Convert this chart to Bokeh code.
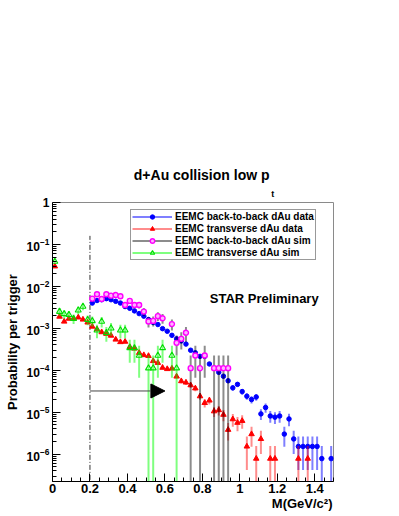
import math
from bokeh.plotting import figure
from bokeh.models import (Range1d, FixedTicker, LogTickFormatter, Label, Legend, LegendItem,
                          Arrow, NormalHead, ColumnDataSource, Title)
from bokeh.embed import file_html
from bokeh.resources import INLINE

# ---------------- data ----------------
# EEMC back-to-back dAu data (blue)
bb_data_m = [0.2125, 0.2375, 0.2625, 0.2875, 0.3125, 0.3375, 0.3625, 0.3875, 0.4125, 0.4375,
             0.4625, 0.4875, 0.5125, 0.5375, 0.5625, 0.5875, 0.6125, 0.6375, 0.6625, 0.6875,
             0.7125, 0.7375, 0.7625, 0.7875, 0.8125, 0.8375, 0.8625, 0.8875, 0.9125, 0.9375,
             0.9625, 0.9875, 1.0125, 1.0375, 1.0625, 1.0875, 1.1125, 1.1375, 1.1625, 1.1875,
             1.2125, 1.2375, 1.2625, 1.2875, 1.3125, 1.3375, 1.3625, 1.3875, 1.4125, 1.4375,
             1.4875]
bb_data_p = [4.0e-3, 4.6e-3, 4.8e-3, 5.1e-3, 4.8e-3, 4.4e-3, 4.0e-3, 3.3e-3, 3.0e-3, 2.6e-3,
             2.24e-3, 1.95e-3, 1.62e-3, 1.38e-3, 1.23e-3, 9.8e-4, 8.5e-4, 6.8e-4, 5.6e-4, 5.0e-4,
             4.2e-4, 3.0e-4, 2.6e-4, 2.14e-4, 2.14e-4, 1.41e-4, 1.12e-4, 8.9e-5, 7.2e-5, 5.6e-5,
             3.8e-5, 4.6e-5, 3.1e-5, 2.4e-5, 2.0e-5, 2.3e-5, 9.1e-6, 1.29e-5, 8.1e-6, 7.6e-6,
             8.1e-6, 3.0e-6, 6.9e-6, 2.3e-6, 1.52e-6, 1.52e-6, 1.52e-6, 1.52e-6, 1.52e-6, 7.8e-7,
             7.8e-7]
bb_data_err = [5.5e-5, 6.0e-5, 6.1e-5, 6.3e-5, 6.1e-5, 5.8e-5, 5.5e-5, 5.0e-5, 4.8e-5, 4.5e-5,
               4.2e-5, 3.9e-5, 3.5e-5, 3.3e-5, 3.1e-5, 2.7e-5, 2.6e-5, 2.3e-5, 2.1e-5, 2.0e-5,
               1.8e-5, 1.5e-5, 1.4e-5, 1.3e-5, 1.3e-5, 1.0e-5, 9.3e-6, 8.3e-6, 7.4e-6, 6.6e-6,
               5.4e-6, 6.0e-6, 4.9e-6, 4.3e-6, 3.9e-6, 4.2e-6, 2.6e-6, 3.2e-6, 2.5e-6, 2.4e-6,
               2.5e-6, 1.5e-6, 2.3e-6, 1.3e-6, 1.1e-6, 1.1e-6, 1.1e-6, 1.1e-6, 1.1e-6, 7.8e-7,
               7.8e-7]

# EEMC transverse dAu data (red)
tr_data_m = [0.0125, 0.0375, 0.0625, 0.0875, 0.1125, 0.1375, 0.1625, 0.1875, 0.2125, 0.2375,
             0.2625, 0.2875, 0.3125, 0.3375, 0.3625, 0.3875, 0.4125, 0.4375, 0.4625, 0.4875,
             0.5125, 0.5375, 0.5625, 0.5875, 0.6125, 0.6375, 0.6625, 0.6875, 0.7125, 0.7375,
             0.7625, 0.7875, 0.8125, 0.8375, 0.8625, 0.8875, 0.9125, 0.9375, 0.9625, 0.9875,
             1.0125, 1.0375, 1.0625, 1.0875, 1.1125, 1.1625, 1.1875, 1.3125, 1.3625]
tr_data_p = [3.0e-2, 1.9e-3, 1.45e-3, 1.7e-3, 1.7e-3, 1.82e-3, 1.62e-3, 1.38e-3, 1.1e-3, 9.5e-4,
             8.1e-4, 7.4e-4, 6.7e-4, 5.4e-4, 4.7e-4, 4.8e-4, 3.6e-4, 3.3e-4, 2.6e-4, 2.3e-4,
             2.2e-4, 1.66e-4, 1.5e-4, 1.15e-4, 1.07e-4, 1.1e-4, 7.1e-5, 5.5e-5, 5.1e-5, 4.4e-5,
             3.7e-5, 2.4e-5, 1.66e-5, 1.9e-5, 1.05e-5, 1.12e-5, 8.7e-6, 3.8e-6, 6.8e-6, 5.6e-6,
             6.2e-6, 1.52e-6, 3.0e-6, 7.8e-7, 2.3e-6, 7.8e-7, 7.8e-7, 7.8e-7, 7.8e-7]
tr_data_err = [1.5e-4, 3.8e-5, 3.3e-5, 3.6e-5, 3.6e-5, 3.7e-5, 3.5e-5, 3.3e-5, 2.9e-5, 2.7e-5,
               2.5e-5, 2.4e-5, 2.3e-5, 2.0e-5, 1.9e-5, 1.9e-5, 1.7e-5, 1.6e-5, 1.4e-5, 1.3e-5,
               1.3e-5, 1.1e-5, 1.1e-5, 9.4e-6, 9.1e-6, 9.2e-6, 7.4e-6, 6.5e-6, 6.3e-6, 5.8e-6,
               5.3e-6, 4.3e-6, 3.6e-6, 3.8e-6, 2.8e-6, 2.9e-6, 2.6e-6, 1.7e-6, 2.3e-6, 2.1e-6,
               2.2e-6, 1.1e-6, 1.5e-6, 7.8e-7, 1.3e-6, 7.8e-7, 7.8e-7, 7.8e-7, 7.8e-7]

# EEMC back-to-back dAu sim (magenta)
bb_sim_m = [0.2125, 0.2375, 0.2625, 0.2875, 0.3125, 0.3375, 0.3625, 0.3875, 0.4125, 0.4375,
            0.4625, 0.4875, 0.5125, 0.5375, 0.5625, 0.5875, 0.6375, 0.6625, 0.6875, 0.7125,
            0.7375, 0.7625, 0.7875, 0.8125, 0.8625, 0.8875, 0.9125, 0.9375]
bb_sim_p = [5.1e-3, 6.5e-3, 5.0e-3, 6.5e-3, 6.0e-3, 6.2e-3, 5.8e-3, 3.6e-3, 4.5e-3, 3.6e-3,
            3.6e-3, 2.5e-3, 1.45e-3, 1.5e-3, 1.95e-3, 1.74e-3, 1.26e-3, 4.5e-4, 5.6e-4, 7.8e-4,
            1.12e-4, 2.24e-4, 1.12e-4, 2.24e-4, 1.12e-4, 1.12e-4, 1.12e-4, 1.12e-4]
bb_sim_err = [7.6e-4, 8.5e-4, 7.5e-4, 8.5e-4, 8.2e-4, 8.3e-4, 8.1e-4, 6.3e-4, 7.1e-4, 6.3e-4,
              6.3e-4, 5.3e-4, 4.0e-4, 4.0e-4, 4.6e-4, 4.5e-4, 3.7e-4, 2.24e-4, 2.5e-4, 3.0e-4,
              1.12e-4, 1.58e-4, 1.12e-4, 1.58e-4, 1.12e-4, 1.12e-4, 1.12e-4, 1.12e-4]

# EEMC transverse dAu sim (green)
tr_sim_m = [0.0125, 0.0375, 0.0625, 0.0875, 0.1125, 0.1375, 0.1625, 0.1875, 0.2125, 0.2375,
            0.2625, 0.2875, 0.3125, 0.3625, 0.3875, 0.4125, 0.4375, 0.4625, 0.5125, 0.5375,
            0.5625, 0.5875, 0.6375, 0.6625]
tr_sim_p = [3.9e-2, 2.5e-3, 2.2e-3, 2.1e-3, 1.7e-3, 2.7e-3, 3.3e-3, 1.6e-3, 1.5e-3, 9.0e-4,
            1.45e-3, 7.8e-4, 1.0e-3, 9.0e-4, 9.0e-4, 3.4e-4, 3.4e-4, 2.24e-4, 1.12e-4, 1.12e-4,
            2.24e-4, 3.4e-4, 2.24e-4, 1.12e-4]
tr_sim_err = [2.1e-3, 5.3e-4, 5.0e-4, 4.9e-4, 4.3e-4, 5.5e-4, 6.0e-4, 4.2e-4, 4.0e-4, 3.2e-4,
              4.0e-4, 3.0e-4, 3.4e-4, 3.2e-4, 3.2e-4, 1.9e-4, 1.9e-4, 1.58e-4, 1.12e-4, 1.12e-4,
              1.58e-4, 1.9e-4, 1.58e-4, 1.12e-4]

legend_labels = ["EEMC back-to-back dAu data", "EEMC transverse dAu data",
                 "EEMC back-to-back dAu sim", "EEMC transverse dAu sim"]

x_ticks = [0.0, 0.2, 0.4, 0.6, 0.8, 1.0, 1.2, 1.4]
y_ticks = [1e-6, 1e-5, 1e-4, 1e-3, 1e-2, 1e-1, 1.0]

title_text = "d+Au collision low p"
title_sub = "t"
x_title = "M(GeV/c\u00b2)"
y_title = "Probability per trigger"
star_text = "STAR Preliminary"

mass_cut = 0.2          # vertical dash-dot line
mass_cut_top = 0.16     # top of the dash-dot line
arrow_level = 3.2e-5    # y of the arrow
arrow_end = 0.6         # arrow tip

x_lo, x_hi = 0.0, 1.5
y_lo, y_hi = 2.22e-7, 1.0
floor = 1e-9

FONT = "Liberation Sans"

# ---------------- figure ----------------
p = figure(width=399, height=516, x_range=Range1d(x_lo, x_hi), y_range=Range1d(y_lo, y_hi),
           y_axis_type="log", output_backend="svg", toolbar_location=None, title=None,
           min_border_left=52, min_border_right=66, min_border_top=202, min_border_bottom=35)
p.grid.visible = False
p.outline_line_color = "#8a8a8a"
p.outline_line_width = 1
p.background_fill_color = "white"
p.border_fill_color = "white"

minor_x = [i * 0.05 for i in range(0, 31) if i % 4 != 0]
p.xaxis.ticker = FixedTicker(ticks=x_ticks, minor_ticks=minor_x)
minor_y = []
for d in range(-7, 0):
    for k in range(2, 10):
        v = k * 10.0 ** d
        if y_lo < v < y_hi:
            minor_y.append(v)
p.yaxis.ticker = FixedTicker(ticks=y_ticks, minor_ticks=minor_y)
p.yaxis.formatter = LogTickFormatter()
p.yaxis.major_label_overrides = {1: "1"}

for ax in (p.xaxis[0], p.yaxis[0]):
    ax.axis_line_color = "black"
    ax.axis_line_width = 1
    ax.major_tick_in = 8
    ax.major_tick_out = 0
    ax.minor_tick_in = 4
    ax.minor_tick_out = 0
    ax.major_tick_line_color = "black"
    ax.minor_tick_line_color = "black"
    ax.major_label_text_font = FONT
    ax.major_label_text_font_style = "bold"
    ax.major_label_text_color = "black"
p.xaxis.major_label_standoff = 2
p.yaxis.major_label_standoff = 3
p.xaxis.major_label_text_font_size = "13px"
p.yaxis.major_label_text_font_size = "12px"
p.yaxis.axis_label = y_title
p.yaxis.axis_label_text_font = FONT
p.yaxis.axis_label_text_font_style = "bold"
p.yaxis.axis_label_text_font_size = "13px"
p.yaxis.axis_label_text_color = "black"
p.yaxis.axis_label_standoff = 4


def bars(m, v, e):
    lo = [max(a - b, floor) for a, b in zip(v, e)]
    hi = [a + b for a, b in zip(v, e)]
    return ColumnDataSource(dict(x=m, y=v, lo=lo, hi=hi))


src_bb = bars(bb_data_m, bb_data_p, bb_data_err)
src_tr = bars(tr_data_m, tr_data_p, tr_data_err)
src_bbs = bars(bb_sim_m, bb_sim_p, bb_sim_err)
src_trs = bars(tr_sim_m, tr_sim_p, tr_sim_err)

# reference line and arrow
p.segment(x0=[mass_cut], y0=[floor], x1=[mass_cut], y1=[mass_cut_top],
          line_color="#333333", line_width=1, line_dash="5 2 1 2")
p.add_layout(Arrow(end=NormalHead(size=14, fill_color="black", line_color="black", line_width=1),
                   x_start=mass_cut, y_start=arrow_level, x_end=arrow_end, y_end=arrow_level,
                   line_color="#444444", line_width=1))

e_bb = p.segment(x0="x", y0="lo", x1="x", y1="hi", source=src_bb, line_color="#0000ff",
                 line_alpha=0.5, line_width=2)
m_bb = p.scatter("x", "y", source=src_bb, marker="circle", size=4.5, fill_color="#0000ff",
                 line_color="#0000ff")
e_tr = p.segment(x0="x", y0="lo", x1="x", y1="hi", source=src_tr, line_color="#ff0000",
                 line_alpha=0.45, line_width=2)
m_tr = p.scatter("x", "y", source=src_tr, marker="triangle", size=5.5, fill_color="#ff0000",
                 line_color="#ff0000")
e_bbs = p.segment(x0="x", y0="lo", x1="x", y1="hi", source=src_bbs, line_color="#000000",
                  line_alpha=0.45, line_width=2)
m_bbs = p.scatter("x", "y", source=src_bbs, marker="circle", size=5, fill_color="#ffb3ff",
                  line_color="#ff00ff", line_width=1.4)
e_trs = p.segment(x0="x", y0="lo", x1="x", y1="hi", source=src_trs, line_color="#00ff00",
                  line_alpha=0.5, line_width=2)
m_trs = p.scatter("x", "y", source=src_trs, marker="triangle", size=6, fill_color=None,
                  line_color="#00dd00", line_width=1.1)

legend = Legend(items=[LegendItem(label=legend_labels[0], renderers=[e_bb, m_bb]),
                       LegendItem(label=legend_labels[1], renderers=[e_tr, m_tr]),
                       LegendItem(label=legend_labels[2], renderers=[e_bbs, m_bbs]),
                       LegendItem(label=legend_labels[3], renderers=[e_trs, m_trs])],
                location=(78, 221), margin=0, padding=1, spacing=1,
                glyph_width=40, glyph_height=11, label_height=11, label_standoff=3,
                label_text_font=FONT, label_text_font_style="bold", label_text_font_size="10px",
                label_text_color="black", border_line_color="#333333", border_line_width=1,
                background_fill_color="white", background_fill_alpha=1.0)
p.add_layout(legend, "center")

# texts
txt = dict(text_font=FONT, text_font_style="bold", text_color="black")
p.add_layout(Label(x=x_lo, y=y_hi, x_offset=157.3, y_offset=-96, text=star_text,
                   text_font_size="13px", text_baseline="alphabetic", **txt))

# subscript (closest to the frame), then the main title above it
p.add_layout(Title(text=title_sub, align="left", offset=218.7, standoff=7.5,
                   text_font_size="9px", **txt), "above")
p.add_layout(Title(text=title_text, align="left", offset=81.3, standoff=0,
                   text_font_size="14px", **txt), "above")
# x axis title, right aligned below the axis
p.add_layout(Title(text=x_title, align="right", offset=1, standoff=0, vertical_align="top",
                   text_font_size="13px", **txt), "below")

open("out.html", "w").write(file_html(p, INLINE))
